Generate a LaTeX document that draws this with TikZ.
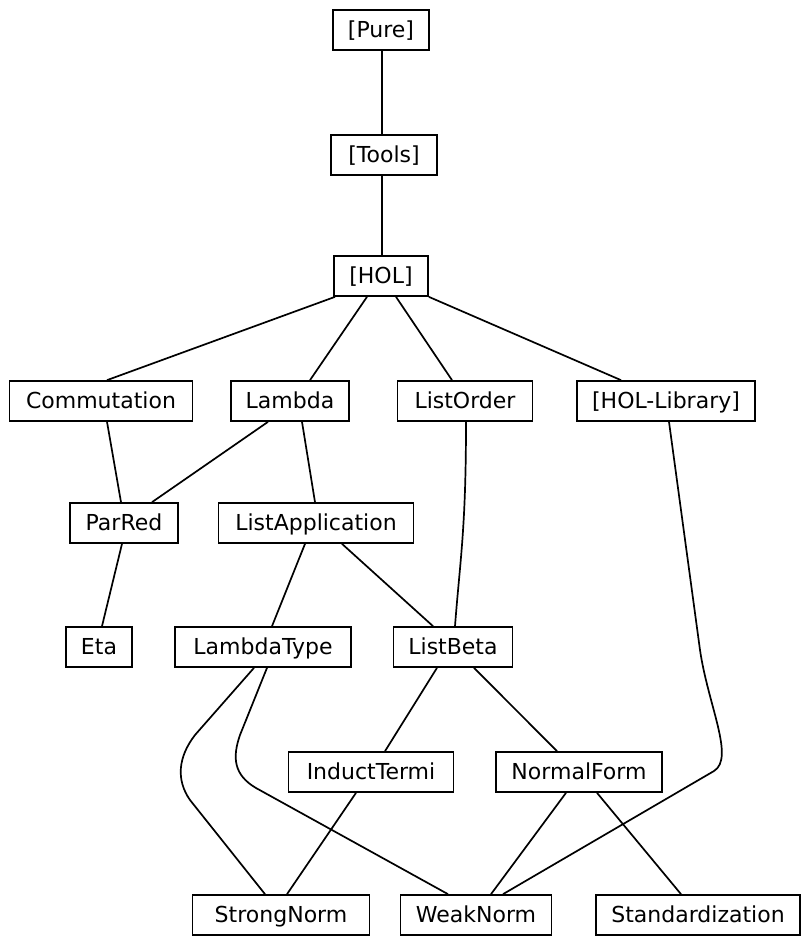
\documentclass[tikz,border=0pt]{standalone}
\usepackage{fontspec}
\setmainfont{DejaVu Sans}
\usepackage {tikz}
\tikzset{
    theory/.style = {rectangle,draw,line width=1.7pt,inner xsep=15pt,inner ysep=0pt,minimum height=40pt,text height=17pt,text depth=2pt,font=\fontsize{22}{26}\selectfont},
    dep/.style = {line width=1.7pt,line join=round}}
\begin{document}
\begin{tikzpicture}[x=1pt,y=-1pt]
    \useasboundingbox (0,0) rectangle (801,936);
    \node[theory,minimum width=96pt] (pure) at (381,30) {[Pure]};
    \node[theory,minimum width=106pt] (tools) at (384,155) {[Tools]};
    \node[theory,minimum width=94pt] (hol) at (381,276) {[HOL]};
    \node[theory,minimum width=183pt] (comm) at (101,401) {Commutation};
    \node[theory,minimum width=106pt] (lam) at (290,401) {Lambda};
    \node[theory,minimum width=135pt] (lord) at (465,401) {ListOrder};
    \node[theory,minimum width=178pt] (hlib) at (666,401) {[HOL-Library]};
    \node[theory,minimum width=108pt] (pred) at (124,523) {ParRed};
    \node[theory,minimum width=195pt] (lapp) at (316,523) {ListApplication};
    \node[theory,minimum width=66pt] (eta) at (99,647) {Eta};
    \node[theory,minimum width=176pt] (ltype) at (263,647) {LambdaType};
    \node[theory,minimum width=118pt] (lbeta) at (453,647) {ListBeta};
    \node[theory,minimum width=165pt] (induct) at (371,772) {InductTermi};
    \node[theory,minimum width=166pt] (nform) at (579,772) {NormalForm};
    \node[theory,minimum width=177pt] (snorm) at (281,915) {StrongNorm};
    \node[theory,minimum width=151pt] (wnorm) at (476,915) {WeakNorm};
    \node[theory,minimum width=204pt] (stand) at (698,915) {Standardization};
    \draw[dep] ([xshift=1pt]pure.south) -- ([xshift=-2pt]tools.north);
    \draw[dep] ([xshift=-2pt]tools.south) -- ([xshift=1pt]hol.north);
    \draw[dep] ([xshift=-46pt]hol.south) -- ([xshift=6pt]comm.north);
    \draw[dep] ([xshift=-14pt]hol.south) -- ([xshift=20pt]lam.north);
    \draw[dep] ([xshift=15pt]hol.south) -- ([xshift=-13pt]lord.north);
    \draw[dep] (hol.south east) -- ([xshift=-45pt]hlib.north);
    \draw[dep] ([xshift=6pt]comm.south) -- ([xshift=-3pt]pred.north);
    \draw[dep] ([xshift=-22pt]lam.south) -- ([xshift=28pt]pred.north);
    \draw[dep] ([xshift=12pt]lam.south) -- ([xshift=-1pt]lapp.north);
    \draw[dep] ([xshift=1pt]lord.south) .. controls (466,530) and (460,560) .. ([xshift=2pt]lbeta.north);
    \draw[dep] ([xshift=3pt]hlib.south) -- (700,650) .. controls (708,705) and (735,758) .. (714,771) -- ([xshift=27pt]wnorm.north);
    \draw[dep] ([xshift=-2pt]pred.south) -- ([xshift=3pt]eta.north);
    \draw[dep] ([xshift=-11pt]lapp.south) -- ([xshift=9pt]ltype.north);
    \draw[dep] ([xshift=26pt]lapp.south) -- ([xshift=-20pt]lbeta.north);
    \draw[dep] ([xshift=-9pt]ltype.south) -- (195,735) .. controls (178,757) and (176,780) .. (190,800) -- ([xshift=-16pt]snorm.north);
    \draw[dep] ([xshift=4pt]ltype.south) -- (240,735) .. controls (232,758) and (234,775) .. (256,788) -- ([xshift=-28pt]wnorm.north);
    \draw[dep] ([xshift=-16pt]lbeta.south) -- ([xshift=14pt]induct.north);
    \draw[dep] ([xshift=21pt]lbeta.south) -- ([xshift=-22pt]nform.north);
    \draw[dep] ([xshift=-15pt]induct.south) -- ([xshift=6pt]snorm.north);
    \draw[dep] ([xshift=-13pt]nform.south) -- ([xshift=15pt]wnorm.north);
    \draw[dep] ([xshift=18pt]nform.south) -- ([xshift=-17pt]stand.north);
    \end{tikzpicture}
\end{document}
